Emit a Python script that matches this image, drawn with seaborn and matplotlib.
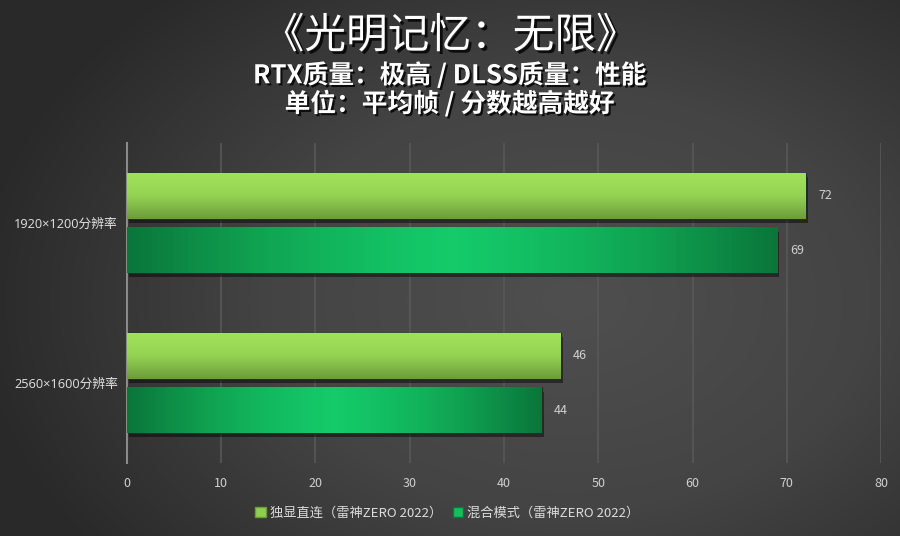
import numpy as np
import pandas as pd
import matplotlib
matplotlib.use("Agg")
import matplotlib.pyplot as plt
import matplotlib.patheffects as pe
from matplotlib.colors import LinearSegmentedColormap
from matplotlib.patches import Patch
import seaborn as sns

# chart data
resolutions = ["1920×1200分辨率", "2560×1600分辨率"]
series_names = ["独显直连（雷神ZERO 2022）", "混合模式（雷神ZERO 2022）"]
direct_fps = [72, 46]
hybrid_fps = [69, 44]
x_ticks = [0, 10, 20, 30, 40, 50, 60, 70, 80]

title = "《光明记忆：无限》"
subtitle_1 = "RTX质量：极高 / DLSS质量：性能"
subtitle_2 = "单位：平均帧 / 分数越高越好"

df = pd.DataFrame({
    "res": resolutions * 2,
    "mode": [series_names[0]] * 2 + [series_names[1]] * 2,
    "fps": direct_fps + hybrid_fps,
})

sns.set_theme(style="dark")
plt.rcParams["font.family"] = ["Noto Sans CJK SC", "DejaVu Sans"]

fig = plt.figure(figsize=(9, 5.36), dpi=100)

# radial grey background
bg = fig.add_axes([0, 0, 1, 1], zorder=-10)
yy, xx = np.mgrid[0:536, 0:900]
r = np.sqrt(((xx - 570) / 600.0) ** 2 + ((yy - 300) / 420.0) ** 2)
r = np.clip(r, 0, 1)
bg_cmap = LinearSegmentedColormap.from_list("bg", ["#4f4f4f", "#444444", "#292929"])
bg.imshow(r, cmap=bg_cmap, vmin=0, vmax=1, aspect="auto")
bg.set_axis_off()

ax = fig.add_axes([0.1411, 0.1362, 0.8378, 0.597])
ax.patch.set_alpha(0)

sns.barplot(data=df, y="res", x="fps", hue="mode", orient="h", ax=ax,
            width=0.683, gap=0.16, palette=["#8fd14f", "#13c05a"],
            legend=False, zorder=2)

ax.set_xlim(0, 80)
ax.set_ylim(1.5, -0.5)
ax.set_xticks(x_ticks)
ax.set_xlabel("")
ax.set_ylabel("")

# gradients for the bars
light = np.linspace(0, 1, 64)[:, None]
light_cmap = LinearSegmentedColormap.from_list("lg", ["#a2e25a", "#93d352", "#6d9c3b"])
dark = np.abs(np.linspace(-1, 1, 128))[None, :] ** 1.3
dark_cmap = LinearSegmentedColormap.from_list("dg", ["#14ca69", "#10a452", "#0a763b"])

for i, cont in enumerate(ax.containers):
    for bar in cont:
        x0, y0 = bar.get_x(), bar.get_y()
        w, h = bar.get_width(), bar.get_height()
        bar.set_facecolor("#1e1e1e")
        bar.set_edgecolor("#2a2a2a")
        bar.set_linewidth(0.8)
        bar.set_path_effects([pe.SimplePatchShadow(offset=(1.5, -3), shadow_rgbFace="black", alpha=0.45),
                              pe.Normal()])
        if i == 0:
            ax.imshow(light, cmap=light_cmap, aspect="auto", origin="upper",
                      extent=[x0, x0 + w, y0 + h, y0], zorder=3)
        else:
            ax.imshow(dark, cmap=dark_cmap, aspect="auto", origin="upper",
                      extent=[x0, x0 + w, y0 + h, y0], zorder=3)
    ax.bar_label(cont, padding=9, color="#cfcfcf", fontsize=9, zorder=4)

ax.set_xlim(0, 80)
ax.set_ylim(1.5, -0.5)

ax.grid(axis="x", color="#585858", linewidth=1.2, zorder=0)
ax.grid(axis="y", visible=False)
for side in ["top", "right", "bottom"]:
    ax.spines[side].set_visible(False)
ax.spines["left"].set_color("#8a8a8a")
ax.spines["left"].set_linewidth(1.5)
ax.tick_params(axis="x", length=0, pad=10, colors="#d0d0d0", labelsize=9)
ax.tick_params(axis="y", length=0, pad=6.5, colors="#e2e2e2", labelsize=9.2)
for lab in ax.get_yticklabels():
    lab.set_fontfamily(["Open Sans", "Noto Sans CJK SC"])

fig.text(0.5, 0.932, title, ha="center", va="center", fontsize=30,
         color="white", path_effects=[pe.withSimplePatchShadow(offset=(2, -2), shadow_rgbFace="black", alpha=0.8)])
fig.text(0.5, 0.859, subtitle_1, ha="center", va="center", fontsize=18.5, fontweight="bold",
         color="white", path_effects=[pe.withSimplePatchShadow(offset=(1.5, -1.5), shadow_rgbFace="black", alpha=0.8)])
fig.text(0.5, 0.806, subtitle_2, ha="center", va="center", fontsize=18.5, fontweight="bold",
         color="white", path_effects=[pe.withSimplePatchShadow(offset=(1.5, -1.5), shadow_rgbFace="black", alpha=0.8)])

handles = [Patch(facecolor="#8fd14f", edgecolor="#6d9c3b"),
           Patch(facecolor="#13c05a", edgecolor="#0a783c")]
fig.legend(handles, series_names, loc="center", bbox_to_anchor=(0.497, 0.042), ncol=2,
           frameon=False, fontsize=9.5, labelcolor="#dcdcdc", handlelength=0.8,
           handleheight=0.8, handletextpad=0.3, columnspacing=0.8)

fig.savefig("out.png", dpi=100)
